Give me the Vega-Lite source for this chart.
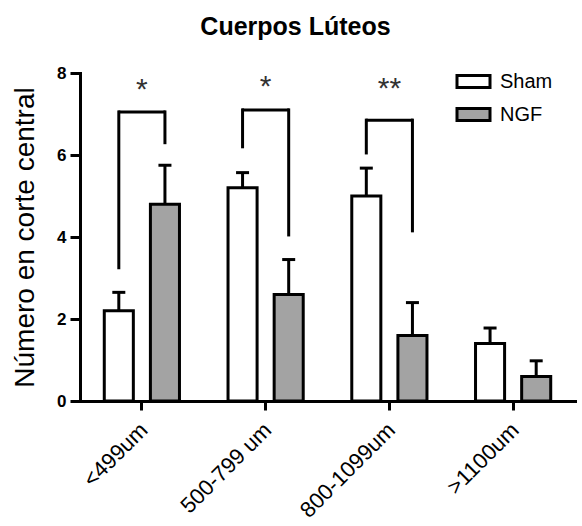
{
  "$schema": "https://vega.github.io/schema/vega-lite/v6.json",
  "width": 495,
  "height": 328,
  "autosize": "none",
  "padding": {"left": 80, "top": 73, "right": 7, "bottom": 125},
  "title": {
    "text": "Cuerpos Lúteos",
    "font": "Liberation Sans",
    "fontSize": 25,
    "fontWeight": "bold",
    "color": "black",
    "anchor": "middle",
    "baseline": "alphabetic",
    "dx": -32,
    "offset": 4
  },
  "config": {
    "view": {"stroke": null},
    "font": "Liberation Sans",
    "axis": {
      "domainColor": "black",
      "tickColor": "black",
      "labelColor": "black",
      "titleColor": "black",
      "domainWidth": 3,
      "tickWidth": 3,
      "domainCap": "square",
      "grid": false,
      "labelFont": "Liberation Sans",
      "titleFont": "Liberation Sans"
    }
  },
  "datasets": {
    "bars": [
      {"group": "<499um", "series": "Sham", "mean": 2.2, "upper": 2.65},
      {"group": "<499um", "series": "NGF", "mean": 4.8, "upper": 5.75},
      {"group": "500-799 um", "series": "Sham", "mean": 5.2, "upper": 5.57},
      {"group": "500-799 um", "series": "NGF", "mean": 2.6, "upper": 3.45},
      {"group": "800-1099um", "series": "Sham", "mean": 5.0, "upper": 5.68},
      {"group": "800-1099um", "series": "NGF", "mean": 1.6, "upper": 2.4},
      {"group": ">1100um", "series": "Sham", "mean": 1.4, "upper": 1.78},
      {"group": ">1100um", "series": "NGF", "mean": 0.6, "upper": 0.98}
    ],
    "sig": [
      {"group": "<499um", "label": "*", "top": 7.05, "labelY": 7.37, "Sham": 3.25, "NGF": 6.3},
      {"group": "500-799 um", "label": "*", "top": 7.1, "labelY": 7.44, "Sham": 6.2, "NGF": 4.05},
      {"group": "800-1099um", "label": "**", "top": 6.85, "labelY": 7.39, "Sham": 6.05, "NGF": 4.15}
    ]
  },
  "layer": [
    {
      "data": {"name": "bars"},
      "mark": {"type": "bar", "stroke": "black", "strokeWidth": 3},
      "encoding": {
        "x": {
          "field": "group",
          "type": "nominal",
          "scale": {"domain": ["<499um", "500-799 um", "800-1099um", ">1100um"], "paddingInner": 0.37, "paddingOuter": 0.185},
          "axis": {
            "title": null,
            "labelAngle": -45,
            "labelAlign": "right",
            "labelBaseline": "top",
            "labelFontSize": 22,
            "labelPadding": 9,
            "labelOffset": -5,
            "tickSize": 9
          }
        },
        "xOffset": {
          "field": "series",
          "type": "nominal",
          "scale": {"domain": ["Sham", "NGF"], "paddingInner": 0.37, "paddingOuter": 0.03}
        },
        "y": {
          "field": "mean",
          "type": "quantitative",
          "scale": {"domain": [0, 8], "nice": false},
          "axis": {
            "title": "Número en corte central",
            "titleFontSize": 28,
            "titleFontWeight": "normal",
            "titlePadding": 17,
            "values": [0, 2, 4, 6, 8],
            "labelFontSize": 17,
            "labelFontWeight": "bold",
            "labelPadding": 4,
            "tickSize": 10
          }
        },
        "fill": {
          "field": "series",
          "type": "nominal",
          "scale": {"domain": ["Sham", "NGF"], "range": ["white", "#a3a3a3"]},
          "legend": {
            "title": null,
            "orient": "none",
            "legendX": 381,
            "legendY": -4,
            "padding": 0,
            "symbolType": "M-1.5,-0.55H1.5V0.55H-1.5Z",
            "symbolSize": 484,
            "symbolStrokeColor": "black",
            "symbolStrokeWidth": 3,
            "labelFontSize": 20,
            "labelFont": "Liberation Sans",
            "labelColor": "black",
            "labelOffset": 14,
            "rowPadding": 8,
            "symbolOpacity": 1,
            "symbolFillColor": "white"
          }
        }
      }
    },
    {
      "data": {"name": "bars"},
      "mark": {"type": "rule", "strokeWidth": 3, "color": "black"},
      "encoding": {
        "x": {"field": "group", "type": "nominal"},
        "xOffset": {"field": "series", "type": "nominal"},
        "y": {"field": "mean", "type": "quantitative"},
        "y2": {"field": "upper"}
      }
    },
    {
      "data": {"name": "bars"},
      "mark": {"type": "tick", "thickness": 3, "size": 13, "color": "black", "opacity": 1},
      "encoding": {
        "x": {"field": "group", "type": "nominal"},
        "xOffset": {"field": "series", "type": "nominal"},
        "y": {"field": "upper", "type": "quantitative"}
      }
    },
    {
      "data": {"name": "sig"},
      "transform": [{"fold": ["Sham", "NGF"], "as": ["series", "end"]}],
      "mark": {"type": "rule", "strokeWidth": 3, "color": "black", "strokeCap": "square"},
      "encoding": {
        "x": {"field": "group", "type": "nominal"},
        "xOffset": {"field": "series", "type": "nominal"},
        "y": {"field": "end", "type": "quantitative"},
        "y2": {"field": "top"}
      }
    },
    {
      "data": {"name": "sig"},
      "mark": {"type": "tick", "thickness": 3, "size": 47, "color": "black", "opacity": 1},
      "encoding": {
        "x": {"field": "group", "type": "nominal"},
        "y": {"field": "top", "type": "quantitative"}
      }
    },
    {
      "data": {"name": "sig"},
      "mark": {"type": "text", "fontSize": 30, "color": "#333", "baseline": "alphabetic", "font": "Liberation Sans"},
      "encoding": {
        "x": {"field": "group", "type": "nominal"},
        "y": {"field": "labelY", "type": "quantitative"},
        "text": {"field": "label"}
      }
    }
  ]
}
